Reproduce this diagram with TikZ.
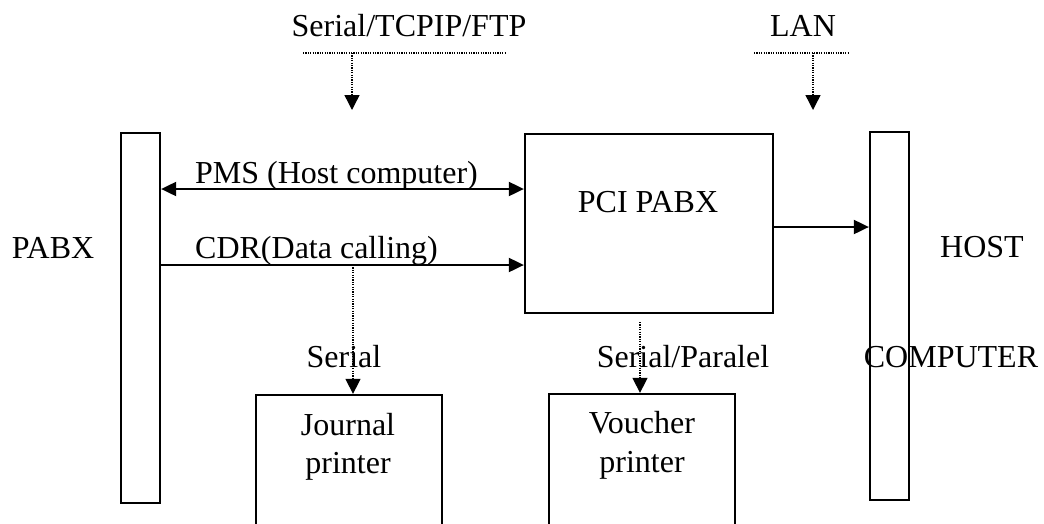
\documentclass[tikz,border=0pt]{standalone}
\usepackage{fontspec}
\setmainfont{Liberation Serif}
\usetikzlibrary{arrows.meta}
\tikzset{
  lbl/.style={font=\fontsize{32}{37}\selectfont, inner sep=0pt, anchor=base},
  box/.style={draw, line width=2.3pt, inner sep=0pt},
  tip/.style={Triangle[length=15pt,width=14pt]},
  link/.style={line width=2pt, -{Triangle[length=15pt,width=14pt]}},
  biglink/.style={line width=2pt, {Triangle[length=15pt,width=14pt]}-{Triangle[length=15pt,width=14pt]}},
  dotline/.style={line width=1.4pt, dash pattern=on 1.2pt off 1.2pt},
  dotlink/.style={dotline, -{Triangle[length=15pt,width=15pt]}},
}
\begin{document}
\begin{tikzpicture}[x=1pt,y=-1pt]
\useasboundingbox (0,0) rectangle (1044,523);
\clip (0,0) rectangle (1044,523);

% vertical bus bars and the central PCI unit
\node[box, minimum width=39pt, minimum height=370pt] (pabx) at (140.5,318) {};
\node[box, minimum width=39pt, minimum height=368pt] (host) at (889.5,316) {};
\node[box, minimum width=248pt, minimum height=179pt] (pci) at (649,223.5) {};

% printers (continue below the lower edge)
\node[box, minimum width=186pt, minimum height=200pt] (jour) at (349,495) {};
\node[box, minimum width=186pt, minimum height=200pt] (vouch) at (642,494) {};

% texts
\node[lbl] (tserial) at (409,36) {Serial/TCPIP/FTP};
\node[lbl] (tlan) at (803,36) {LAN};
\node[lbl, anchor=base west] (tpms) at (195,183) {PMS (Host computer)};
\node[lbl, anchor=base west] (tcdr) at (195,258) {CDR(Data calling)};
\node[lbl] (tpci) at (648,212) {PCI PABX};
\node[lbl] (tpabx) at (53,258) {PABX};
\node[lbl] (thost) at (982,257) {HOST};
\node[lbl] (tcomp) at (951,367) {COMPUTER};
\node[lbl] (tjs) at (344,367) {Serial};
\node[lbl] (tvs) at (683,367) {Serial/Paralel};
\node[lbl] (tj1) at (348,435) {Journal};
\node[lbl] (tj2) at (348,473) {printer};
\node[lbl] (tv1) at (642,433) {Voucher};
\node[lbl] (tv2) at (642,472) {printer};

% reference rows and columns
\coordinate (pmsrow) at (0,189);
\coordinate (cdrrow) at (0,265);
\coordinate (hostrow) at (0,227);
\coordinate (jcol) at (353,0);
\coordinate (vcol) at (640,0);

% solid links
\draw[biglink] (pabx.east |- pmsrow) -- (pci.west |- pmsrow);
\draw[link] (pabx.east |- cdrrow) -- (pci.west |- cdrrow);
\draw[link] (pci.east |- hostrow) -- (host.west |- hostrow);

% dotted feeds from above
\coordinate (s1) at (303,53);
\coordinate (s2) at (505,53);
\coordinate (sm) at (352,53);
\coordinate (st) at (352,110);
\draw[dotline] (s1) -- (s2);
\draw[dotlink] (sm) -- (st);

\coordinate (l1) at (754,53);
\coordinate (l2) at (849,53);
\coordinate (lm) at (813,53);
\coordinate (lt) at (813,110);
\draw[dotline] (l1) -- (l2);
\draw[dotlink] (lm) -- (lt);

% dotted links to the printers
\draw[dotlink] (jcol |- cdrrow) -- (jour.north -| jcol);
\coordinate (vstart) at (640,322);
\draw[dotlink] (vstart) -- (vouch.north -| vcol);
\end{tikzpicture}
\end{document}
